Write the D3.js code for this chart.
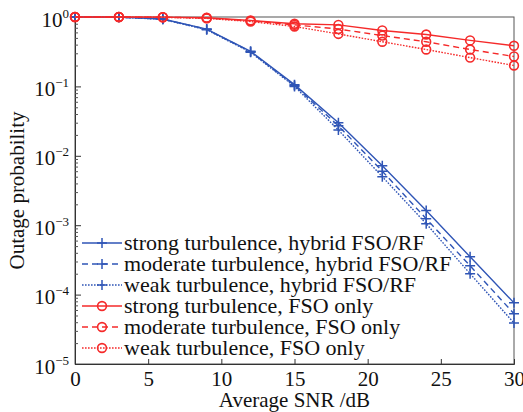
<!DOCTYPE html>
<html><head><meta charset="utf-8">
<script src="https://cdn.jsdelivr.net/npm/d3@7"></script>
<style>
html,body{margin:0;padding:0;background:#fff;}
svg text{font-family:"Liberation Serif","Times New Roman",serif;fill:#111;}
</style></head>
<body><svg id="c" width="523" height="412"></svg>
<script>
const snr = [0,3,6,9,12,15,18,21,24,27,30];
const hybridStrong   = [1,0.995,0.935,0.67,0.32,0.106,0.030,0.0072,0.00163,0.00035,0.000076];
const hybridModerate = [1,0.995,0.93,0.665,0.315,0.103,0.027,0.0060,0.00124,0.00026,0.000053];
const hybridWeak     = [1,0.995,0.925,0.655,0.31,0.100,0.0235,0.0050,0.00105,0.00020,0.000039];
const fsoStrong   = [1,1,0.995,0.975,0.89,0.80,0.77,0.64,0.56,0.46,0.385];
const fsoModerate = [1,1,0.993,0.965,0.88,0.77,0.67,0.54,0.44,0.34,0.27];
const fsoWeak     = [1,1,0.99,0.955,0.86,0.73,0.57,0.44,0.34,0.26,0.20];
const xTicks = [0,5,10,15,20,25,30];
const yTickExps = [0,-1,-2,-3,-4,-5];
const legendLabels = ["strong turbulence, hybrid FSO/RF","moderate turbulence, hybrid FSO/RF","weak turbulence, hybrid FSO/RF","strong turbulence, FSO only","moderate turbulence, FSO only","weak turbulence, FSO only"];
const xTitle = "Average SNR /dB";
const yTitle = "Outage probability";

const BLUE = "#2f55b6", RED = "#f52a2a";
const dashes = ["none","6,4","1.6,1.4"];
const series = [
  {v:hybridStrong, c:BLUE, d:0, m:"plus"},
  {v:hybridModerate, c:BLUE, d:1, m:"plus"},
  {v:hybridWeak, c:BLUE, d:2, m:"plus"},
  {v:fsoStrong, c:RED, d:0, m:"circle"},
  {v:fsoModerate, c:RED, d:1, m:"circle"},
  {v:fsoWeak, c:RED, d:2, m:"circle"}
];

const svg = d3.select("#c");
const L=75, R=514, T=17, B=364;
const x = d3.scaleLinear().domain([0,30]).range([L,R]);
const y = d3.scaleLog().domain([1e-5,1]).range([B,T]);

svg.append("rect").attr("x",L).attr("y",T).attr("width",R-L).attr("height",B-T)
  .attr("fill","none").attr("stroke","#555").attr("stroke-width",1);

const xa = svg.append("g").attr("transform",`translate(0,${B})`)
  .call(d3.axisBottom(x).tickValues(xTicks).tickSize(-5).tickFormat(d3.format("d")));
xa.select(".domain").attr("stroke","#333");
xa.selectAll(".tick line").attr("stroke","#333");
xa.selectAll(".tick text").attr("font-size",21).attr("dy",0).attr("y",22)
  .attr("font-family","Liberation Serif").attr("fill","#111");

const minor=[];
for(let e=-5;e<0;e++) for(let k=2;k<=9;k++) minor.push(k*Math.pow(10,e));
const ya = svg.append("g").attr("transform",`translate(${L},0)`)
  .call(d3.axisLeft(y).tickValues(minor).tickSize(-3).tickFormat(""));
ya.select(".domain").attr("stroke","#333");
ya.selectAll(".tick line").attr("stroke","#555");
const yb = svg.append("g").attr("transform",`translate(${L},0)`)
  .call(d3.axisLeft(y).tickValues(yTickExps.map(e=>Math.pow(10,e))).tickSize(-6).tickFormat(""));
yb.select(".domain").remove();
yb.selectAll(".tick line").attr("stroke","#333");
yb.selectAll(".tick").each(function(d){
  const e = Math.round(Math.log10(d));
  const t = d3.select(this).append("text").attr("x",-6).attr("y",9)
    .attr("text-anchor","end").attr("font-size",21).attr("fill","#111");
  t.append("tspan").text("10");
  t.append("tspan").attr("dy",-9).attr("font-size",13).text(e===0?"0":"\u2212"+Math.abs(e));
});

svg.append("text").attr("x",(L+R)/2).attr("y",407).attr("text-anchor","middle")
  .attr("font-size",21).text(xTitle);
svg.append("text").attr("transform",`translate(24,${(T+B)/2}) rotate(-90)`)
  .attr("text-anchor","middle").attr("font-size",21).text(yTitle);

const line = d3.line().x((d,i)=>x(snr[i])).y(d=>y(d));
const g = svg.append("g");
function marker(sel, type, cx, cy, c){
  if(type==="plus"){
    sel.append("path").attr("d",`M${cx-5},${cy}H${cx+5}M${cx},${cy-5}V${cy+5}`)
      .attr("stroke",c).attr("stroke-width",1.5).attr("fill","none");
  } else {
    sel.append("circle").attr("cx",cx).attr("cy",cy).attr("r",4.4)
      .attr("stroke",c).attr("stroke-width",1.6).attr("fill","none");
  }
}
series.forEach(s=>{
  g.append("path").datum(s.v).attr("d",line).attr("fill","none")
    .attr("stroke",s.c).attr("stroke-width",1.4).attr("stroke-dasharray",dashes[s.d]);
  s.v.forEach((v,i)=>marker(g,s.m,x(snr[i]),y(v),s.c));
});

const lg = svg.append("g");
series.forEach((s,i)=>{
  const yy = 243 + i*21;
  lg.append("line").attr("x1",82).attr("x2",122).attr("y1",yy).attr("y2",yy)
    .attr("stroke",s.c).attr("stroke-width",1.4).attr("stroke-dasharray",dashes[s.d]);
  marker(lg,s.m,102,yy,s.c);
  lg.append("text").attr("x",124).attr("y",yy+7).attr("font-size",22).text(legendLabels[i]);
});
</script></body></html>
